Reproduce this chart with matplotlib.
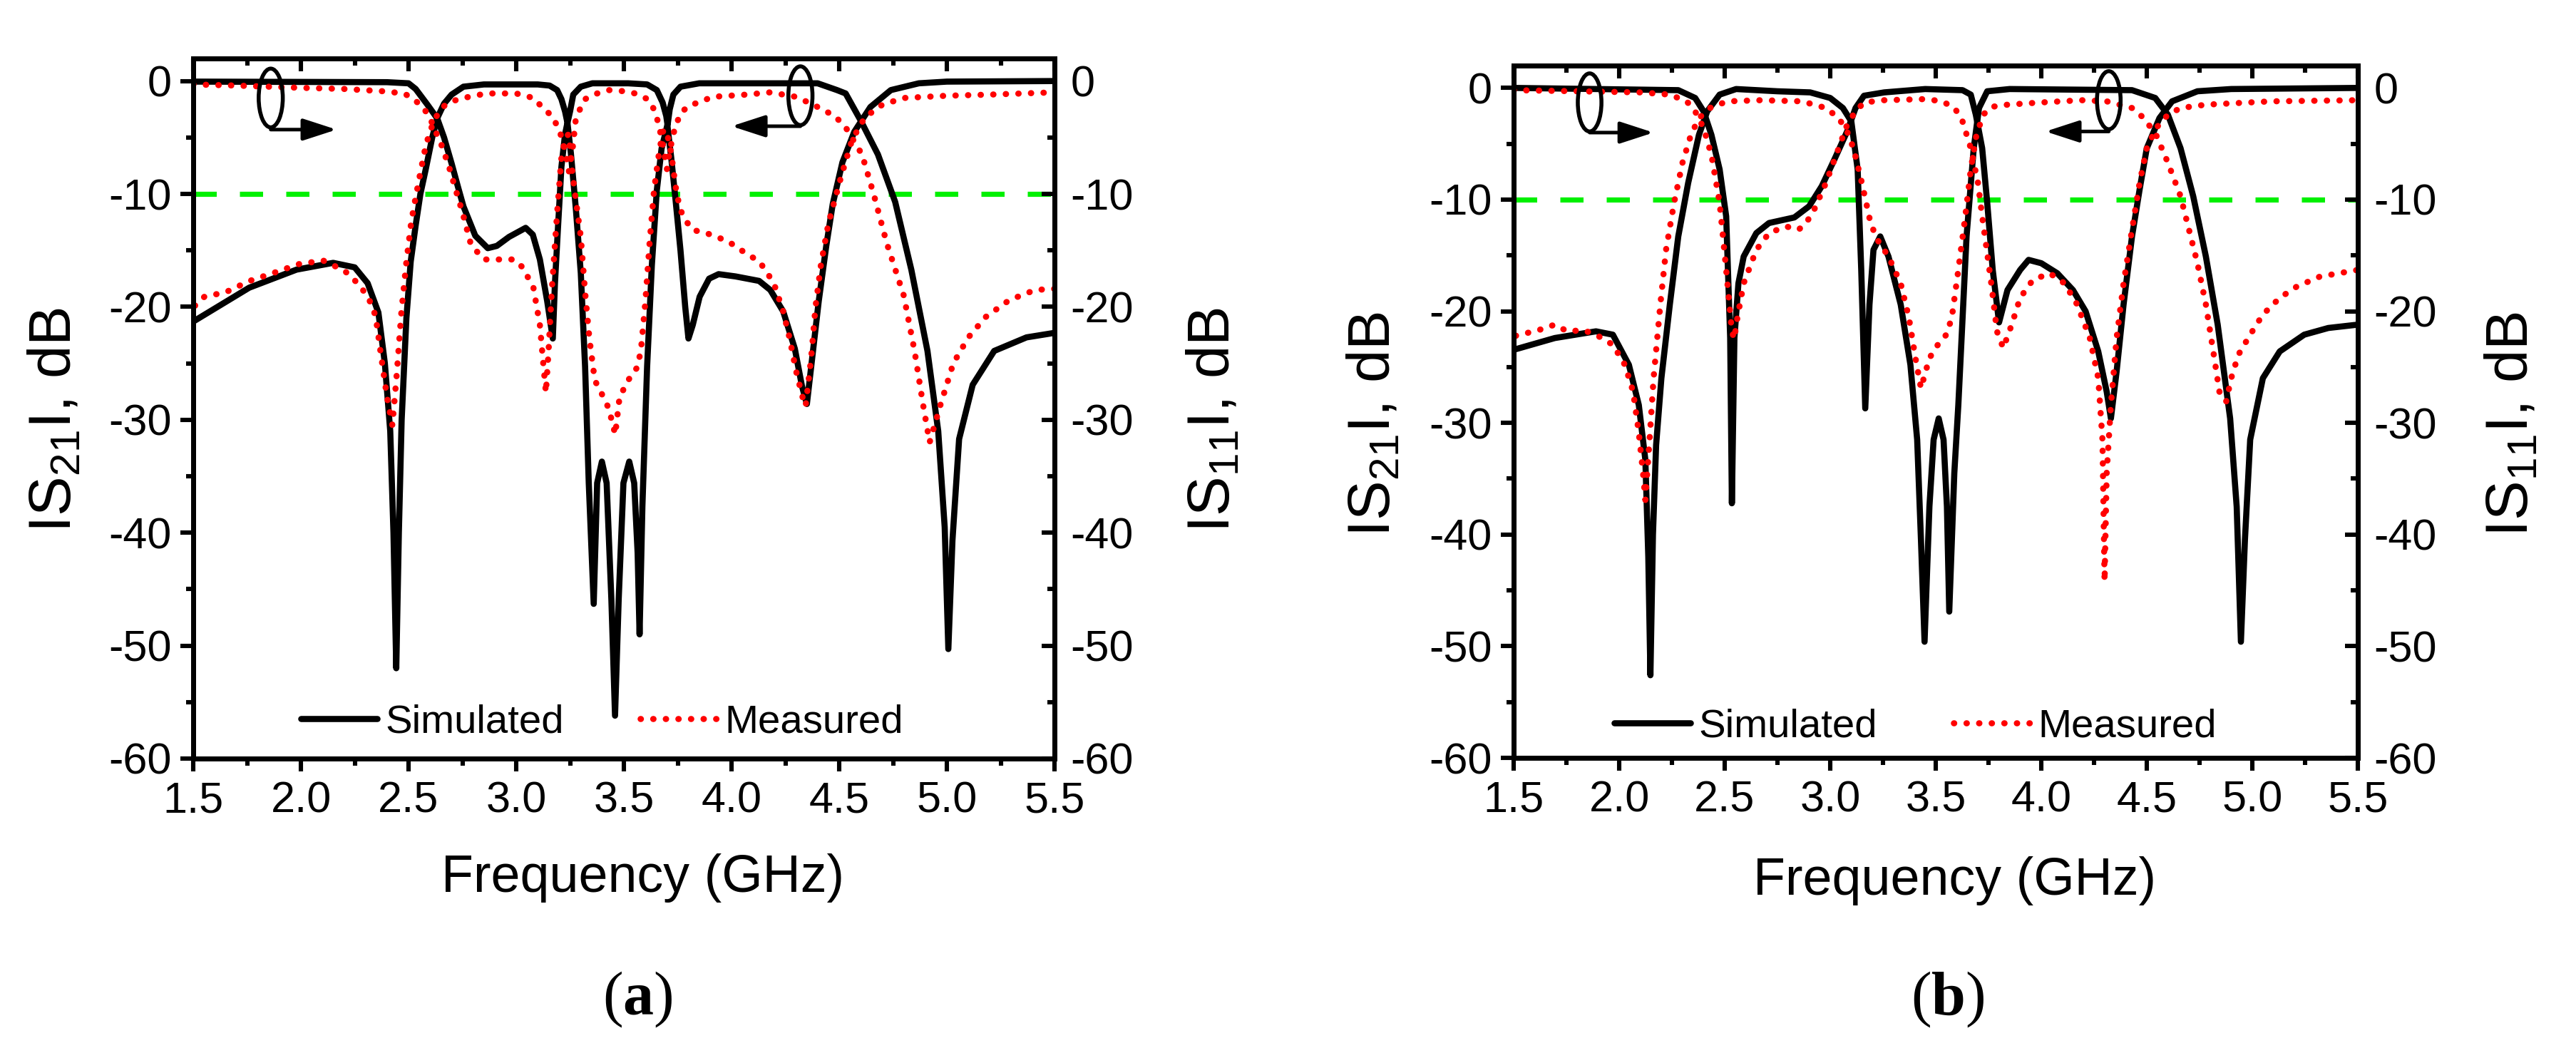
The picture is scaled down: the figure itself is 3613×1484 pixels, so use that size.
import matplotlib
matplotlib.use("Agg")
import matplotlib.pyplot as plt
from matplotlib.ticker import MultipleLocator, NullFormatter
from matplotlib.patches import Ellipse

plt.rcParams['font.family'] = ['Liberation Sans', 'DejaVu Sans']
plt.rcParams['mathtext.fontset'] = 'custom'
plt.rcParams['mathtext.rm'] = 'Liberation Sans'
plt.rcParams['mathtext.it'] = 'Liberation Sans:italic'
plt.rcParams['mathtext.bf'] = 'Liberation Serif:bold'
plt.rcParams['axes.unicode_minus'] = False

# ---------------- panel (a) ----------------
a_s21_sim_f = [1.50, 1.76, 1.98, 2.15, 2.25, 2.31, 2.36, 2.39, 2.415, 2.43, 2.443, 2.455, 2.468,
               2.49, 2.51, 2.533, 2.555, 2.58, 2.61, 2.633, 2.665, 2.70, 2.755, 2.85, 3.10, 3.155,
               3.19, 3.21, 3.227, 3.238, 3.25, 3.265, 3.30, 3.354, 3.52, 3.608, 3.653, 3.68, 3.697,
               3.703, 3.713, 3.73, 3.763, 3.85, 4.40, 4.49, 4.53, 4.60, 4.68, 4.76, 4.835, 4.91,
               4.96, 4.99, 5.007, 5.026, 5.057, 5.12, 5.22, 5.37, 5.50]
a_s21_sim_db = [-21.3, -18.3, -16.7, -16.1, -16.5, -17.9, -20.5, -25.0, -31.0, -40.0, -52.0, -40.0, -30.0,
                -21.0, -16.0, -12.8, -10.0, -7.8, -5.0, -3.3, -2.0, -1.2, -0.5, -0.3, -0.3, -0.4,
                -0.8, -1.6, -2.7, -3.7, -2.7, -1.2, -0.5, -0.2, -0.2, -0.3, -0.8, -1.9, -3.1,
                -3.9, -2.5, -1.2, -0.5, -0.2, -0.2, -0.8, -1.1, -3.5, -6.5, -10.7, -16.7, -23.9,
                -31.0, -39.5, -50.3, -40.7, -31.7, -26.9, -23.9, -22.7, -22.3]

a_s11_sim_f = [1.50, 2.40, 2.50, 2.533, 2.588, 2.633, 2.665, 2.70, 2.73, 2.755, 2.81, 2.868, 2.91,
               2.967, 3.044, 3.077, 3.11, 3.144, 3.17, 3.18, 3.194, 3.21, 3.227, 3.238, 3.254,
               3.277, 3.30, 3.32, 3.337, 3.36, 3.376, 3.398, 3.42, 3.442, 3.459, 3.476, 3.498,
               3.525, 3.548, 3.564, 3.573, 3.586, 3.608, 3.63, 3.653, 3.675, 3.702, 3.72, 3.74,
               3.763, 3.785, 3.80, 3.82, 3.852, 3.896, 3.94, 4.018, 4.128, 4.18, 4.24, 4.294,
               4.327, 4.35, 4.37, 4.405, 4.44, 4.47, 4.515, 4.57, 4.645, 4.74, 4.87, 5.00, 5.50]
a_s11_sim_db = [-0.05, -0.1, -0.2, -0.7, -2.1, -3.3, -5.0, -7.3, -9.4, -11.1, -13.7, -14.8, -14.6,
                -13.8, -13.0, -13.6, -15.8, -19.5, -22.8, -17.9, -13.0, -7.6, -4.7, -3.7, -6.4,
                -11.3, -17.0, -25.3, -35.6, -46.3, -35.6, -33.7, -35.6, -45.9, -56.2, -45.9, -35.6,
                -33.7, -35.6, -41.8, -49.0, -37.7, -25.3, -16.3, -9.7, -6.0, -3.9, -6.8, -10.5,
                -15.0, -20.0, -22.8, -21.6, -19.1, -17.5, -17.1, -17.3, -17.7, -18.5, -20.4, -23.7,
                -27.0, -28.6, -25.3, -19.5, -14.6, -10.9, -7.2, -4.5, -2.3, -0.8, -0.2, -0.05, 0.0]

a_s21_meas_f = [1.508, 1.552, 1.651, 1.762, 1.872, 1.993, 2.104, 2.203, 2.269, 2.314, 2.347, 2.37,
                2.40, 2.425, 2.445, 2.467, 2.49, 2.513, 2.533, 2.556, 2.578, 2.60, 2.633, 2.666,
                2.70, 2.755, 2.86, 3.00, 3.08, 3.12, 3.166, 3.20, 3.225, 3.245, 3.262, 3.276, 3.30,
                3.32, 3.376, 3.43, 3.50, 3.553, 3.61, 3.64, 3.66, 3.68, 3.70, 3.715, 3.74, 3.77,
                3.81, 3.85, 3.91, 4.07, 4.18, 4.30, 4.38, 4.44, 4.48, 4.53, 4.606, 4.66, 4.72,
                4.80, 4.85, 4.89, 4.92, 4.97, 5.03, 5.10, 5.18, 5.29, 5.41, 5.50]
a_s21_meas_db = [-19.9, -19.1, -18.7, -17.7, -17.0, -16.2, -15.9, -16.8, -18.0, -19.2, -20.8, -24.0,
                 -28.0, -30.5, -26.0, -20.4, -16.0, -12.4, -10.3, -8.0, -5.9, -4.4, -3.0, -2.2,
                 -1.8, -1.5, -1.1, -1.1, -1.5, -2.3, -3.1, -4.3, -6.0, -8.0, -6.0, -3.5, -2.3,
                 -1.6, -1.1, -0.8, -0.9, -1.1, -1.6, -2.5, -3.7, -5.5, -7.8, -6.0, -3.9, -2.7,
                 -2.1, -1.9, -1.4, -1.2, -1.0, -1.4, -2.1, -2.7, -3.1, -4.1, -6.5, -10.0, -14.3,
                 -19.0, -23.9, -28.7, -32.0, -28.7, -25.0, -22.7, -20.9, -19.4, -18.5, -18.4]

a_s11_meas_f = [1.50, 1.70, 2.00, 2.20, 2.38, 2.48, 2.523, 2.567, 2.60, 2.633, 2.65, 2.688, 2.72,
                2.75, 2.79, 2.85, 2.99, 3.03, 3.08, 3.11, 3.127, 3.138, 3.15, 3.166, 3.19, 3.21,
                3.227, 3.243, 3.265, 3.30, 3.32, 3.34, 3.365, 3.40, 3.43, 3.46, 3.48, 3.52, 3.564,
                3.58, 3.60, 3.62, 3.64, 3.66, 3.68, 3.697, 3.72, 3.74, 3.76, 3.785, 3.82, 3.874,
                3.93, 3.985, 4.03, 4.08, 4.13, 4.17, 4.20, 4.24, 4.27, 4.30, 4.33, 4.344, 4.37,
                4.39, 4.415, 4.45, 4.48, 4.51, 4.56, 4.62, 4.70, 4.80, 5.00, 5.20, 5.50]
a_s11_meas_db = [-0.3, -0.4, -0.6, -0.7, -0.9, -1.1, -1.6, -2.3, -3.3, -4.8, -5.5, -7.6, -9.7,
                 -11.6, -14.5, -15.8, -15.8, -16.5, -18.3, -21.6, -25.3, -27.6, -24.0, -18.3, -11.7, -6.8,
                 -5.1, -4.7, -8.8, -13.8, -18.7, -22.8, -26.5, -27.8, -29.0, -31.3, -28.0, -26.5, -25.3,
                 -23.7, -19.5, -14.2, -9.7, -6.8, -4.5, -4.3, -6.4, -9.3, -11.3, -12.3, -13.2, -13.4,
                 -13.8, -14.2, -14.8, -15.4, -16.0, -17.1, -18.1, -20.4, -22.8, -25.7, -28.0, -28.8, -24.5,
                 -20.0, -16.3, -12.6, -10.5, -8.4, -5.2, -3.2, -2.1, -1.5, -1.3, -1.2, -1.0]

# ---------------- panel (b) ----------------
b_s21_sim_f = [1.51, 1.695, 1.89, 1.97, 2.046, 2.093, 2.124, 2.138, 2.148, 2.16, 2.175, 2.20, 2.24,
               2.28, 2.327, 2.378, 2.417, 2.476, 2.554, 2.75, 2.905, 3.00, 3.06, 3.10, 3.13, 3.147,
               3.166, 3.186, 3.205, 3.237, 3.276, 3.334, 3.38, 3.412, 3.43, 3.447, 3.47, 3.49, 3.514,
               3.537, 3.553, 3.564, 3.588, 3.607, 3.646, 3.68, 3.705, 3.744, 3.85, 4.43, 4.54, 4.60,
               4.66, 4.72, 4.78, 4.836, 4.895, 4.926, 4.946, 4.965, 4.99, 5.05, 5.13, 5.246, 5.36, 5.50]
b_s21_sim_db = [-23.4, -22.4, -21.8, -22.1, -24.8, -28.4, -33.3, -42.0, -52.6, -40.0, -32.0, -26.0, -19.4,
                -13.3, -8.5, -4.2, -2.1, -0.6, -0.1, -0.3, -0.4, -0.9, -1.8, -3.0, -7.3, -16.3,
                -28.7, -19.4, -14.5, -13.3, -15.1, -19.4, -24.8, -31.5, -40.5, -49.6, -37.5, -31.5, -29.6,
                -31.5, -37.5, -46.9, -34.5, -28.4, -13.3, -5.4, -1.8, -0.3, -0.1, -0.2, -0.9, -2.4,
                -5.4, -9.7, -15.1, -21.2, -29.6, -37.5, -49.6, -40.5, -31.5, -26.0, -23.6, -22.1, -21.5, -21.2]

b_s11_sim_f = [1.50, 2.28, 2.36, 2.40, 2.437, 2.476, 2.507, 2.526, 2.534, 2.546, 2.565, 2.59, 2.65,
               2.71, 2.83, 2.90, 2.96, 3.02, 3.08, 3.12, 3.16, 3.256, 3.45, 3.627, 3.666, 3.69, 3.72,
               3.744, 3.77, 3.80, 3.84, 3.90, 3.94, 4.00, 4.076, 4.15, 4.21, 4.27, 4.31, 4.33, 4.357,
               4.39, 4.43, 4.466, 4.50, 4.56, 4.62, 4.74, 4.90, 5.50]
b_s11_sim_db = [0.0, -0.2, -0.9, -2.1, -4.2, -7.3, -11.5, -22.4, -37.2, -22.4, -17.5, -15.1, -13.0,
                -12.1, -11.6, -10.6, -8.8, -6.4, -3.9, -1.8, -0.7, -0.4, -0.1, -0.2, -0.6, -2.4, -5.4,
                -10.3, -16.3, -21.0, -18.1, -16.3, -15.4, -15.7, -16.6, -18.1, -20.0, -23.6, -27.2, -29.6, -25.4,
                -19.4, -13.3, -9.1, -5.4, -2.7, -1.2, -0.3, -0.1, 0.0]

b_s21_meas_f = [1.51, 1.617, 1.695, 1.754, 1.83, 1.89, 1.97, 2.027, 2.066, 2.093, 2.113, 2.124, 2.144,
                2.163, 2.195, 2.222, 2.26, 2.30, 2.34, 2.378, 2.437, 2.515, 2.67, 2.866, 2.98, 3.04,
                3.08, 3.11, 3.15, 3.19, 3.22, 3.276, 3.334, 3.373, 3.404, 3.43, 3.47, 3.51, 3.55,
                3.576, 3.607, 3.64, 3.666, 3.693, 3.725, 3.763, 3.84, 4.00, 4.19, 4.31, 4.43, 4.486,
                4.544, 4.60, 4.66, 4.70, 4.74, 4.78, 4.82, 4.844, 4.876, 4.90, 4.934, 4.99, 5.05,
                5.13, 5.21, 5.32, 5.50]
b_s21_meas_db = [-22.2, -21.7, -21.2, -21.8, -21.7, -22.1, -23.0, -24.8, -27.2, -30.9, -34.5, -36.9, -31.5,
                 -26.0, -19.4, -14.5, -10.3, -6.7, -4.2, -2.7, -1.7, -1.2, -1.1, -1.2, -1.8, -2.7,
                 -3.9, -5.4, -8.5, -12.0, -13.5, -15.1, -17.5, -20.6, -24.2, -26.9, -24.2, -23.0, -22.1,
                 -20.6, -16.3, -11.5, -7.3, -4.2, -2.4, -1.7, -1.5, -1.3, -1.1, -1.2, -1.8, -2.7,
                 -4.2, -6.7, -9.7, -12.7, -15.7, -19.4, -24.2, -27.2, -28.1, -26.0, -23.9, -22.1, -20.3,
                 -18.8, -17.8, -16.9, -16.3]

b_s11_meas_f = [1.50, 1.80, 2.10, 2.24, 2.32, 2.36, 2.40, 2.437, 2.476, 2.507, 2.534, 2.545, 2.56,
                2.59, 2.65, 2.71, 2.79, 2.85, 2.886, 2.924, 2.98, 3.04, 3.08, 3.12, 3.16, 3.256,
                3.45, 3.53, 3.59, 3.627, 3.666, 3.70, 3.72, 3.763, 3.79, 3.82, 3.86, 3.90, 3.96,
                4.04, 4.11, 4.17, 4.23, 4.27, 4.29, 4.30, 4.31, 4.33, 4.357, 4.39, 4.43, 4.466,
                4.50, 4.544, 4.60, 4.66, 4.78, 5.09, 5.50]
b_s11_meas_db = [-0.2, -0.3, -0.4, -0.6, -1.2, -2.1, -3.6, -6.0, -10.3, -16.3, -21.8, -22.5, -20.6,
                 -17.5, -14.5, -13.0, -12.4, -12.7, -12.1, -10.9, -8.5, -5.4, -3.3, -2.1, -1.3, -1.1,
                 -1.0, -1.2, -1.8, -3.0, -5.4, -8.5, -11.5, -17.5, -21.8, -23.3, -21.2, -18.8, -17.2,
                 -16.6, -17.5, -19.4, -22.4, -26.0, -31.5, -44.2, -34.5, -28.4, -22.4, -17.5, -12.7, -8.5,
                 -5.4, -3.6, -2.4, -1.8, -1.5, -1.2, -1.1]

# ellipse markers: (centre f, centre dB, arrow tip f, arrow level dB)
a_markers = [(1.86, -1.5, 2.166, -4.3), (4.32, -1.3, 4.00, -4.0)]
b_markers = [(1.86, -1.3, 2.163, -4.0), (4.32, -1.1, 4.02, -3.9)]

W, H = 3613, 1484
fig = plt.figure(figsize=(W / 200, H / 200), dpi=200)

SIM = dict(color='black', lw=3.1, solid_joinstyle='round', solid_capstyle='round')
MEAS = dict(color='#FF0000', lw=3.1, linestyle=(0, (0.05, 2.0)), dash_capstyle='round')


def style_axis(ax):
    for sp in ax.spines.values():
        sp.set_linewidth(2.5)
    ax.xaxis.set_major_locator(MultipleLocator(0.5))
    ax.xaxis.set_minor_locator(MultipleLocator(0.25))
    ax.yaxis.set_major_locator(MultipleLocator(10))
    ax.yaxis.set_minor_locator(MultipleLocator(5))


def draw_panel(rect, s21s, s11s, s21m, s11m, markers, leg_pos):
    ax = fig.add_axes(rect)
    ax.axhline(-10, color='#00F000', lw=2.6, linestyle=(0, (4.5, 4.5)), zorder=1)
    l_sim, = ax.plot(s21s[0], s21s[1], label='Simulated', zorder=3, **SIM)
    ax.plot(s11s[0], s11s[1], zorder=3, **SIM)
    l_meas, = ax.plot(s21m[0], s21m[1], label='Measured', zorder=4, **MEAS)
    ax.plot(s11m[0], s11m[1], zorder=4, **MEAS)

    ax.set_xlim(1.5, 5.5)
    ax.set_ylim(-60, 2)
    style_axis(ax)
    ax.tick_params(which='both', direction='out', width=2.2, top=False, right=False, labelsize=22)
    ax.tick_params(which='major', length=6.5)
    ax.tick_params(which='minor', length=3.5)
    ax.tick_params(axis='x', which='major', pad=5)
    ax.tick_params(axis='y', which='major', pad=4.5)

    axr = ax.twinx()
    axr.set_ylim(-60, 2)
    style_axis(axr)
    axr.tick_params(which='both', direction='in', width=2.2, labelsize=22)
    axr.tick_params(which='major', length=6.5, pad=8)
    axr.tick_params(which='minor', length=3.5)

    axt = ax.secondary_xaxis('top')
    axt.xaxis.set_major_locator(MultipleLocator(0.5))
    axt.xaxis.set_minor_locator(MultipleLocator(0.25))
    axt.xaxis.set_major_formatter(NullFormatter())
    axt.tick_params(which='both', direction='in', width=2.2)
    axt.tick_params(which='major', length=6.5)
    axt.tick_params(which='minor', length=3.5)
    axt.spines['top'].set_linewidth(2.5)

    for fc, dc, ft, dl in markers:
        ax.add_patch(Ellipse((fc, dc), width=0.112, height=5.2, fill=False,
                             edgecolor='black', lw=2.0, zorder=5))
        ax.annotate('', xy=(ft, dl), xytext=(fc, dl),
                    arrowprops=dict(arrowstyle='-|>,head_length=0.4,head_width=0.13',
                                    mutation_scale=36, lw=1.8, color='black',
                                    shrinkA=0, shrinkB=0), zorder=5)

    ax.legend(handles=[l_sim, l_meas], loc='center', bbox_to_anchor=leg_pos, ncol=2,
              frameon=False, fontsize=20.3, handlelength=1.9, handletextpad=0.2,
              columnspacing=1.9, borderpad=0)
    return ax


draw_panel([271 / W, (H - 1064) / H, 1208 / W, 982 / H],
           (a_s21_sim_f, a_s21_sim_db), (a_s11_sim_f, a_s11_sim_db),
           (a_s21_meas_f, a_s21_meas_db), (a_s11_meas_f, a_s11_meas_db),
           a_markers, (0.475, 0.051))
draw_panel([2123 / W, (H - 1063) / H, 1184 / W, 971 / H],
           (b_s21_sim_f, b_s21_sim_db), (b_s11_sim_f, b_s11_sim_db),
           (b_s21_meas_f, b_s21_meas_db), (b_s11_meas_f, b_s11_meas_db),
           b_markers, (0.476, 0.045))

# axis titles and captions, placed in figure pixels
ylab_kw = dict(rotation=90, rotation_mode='anchor', ha='center', va='baseline', fontsize=30)
fig.text(100 / W, 1 - 589 / H, r'IS$_{21}$I, dB', **ylab_kw)
fig.text(1725 / W, 1 - 589 / H, r'IS$_{11}$I, dB', **ylab_kw)
fig.text(1950 / W, 1 - 595 / H, r'IS$_{21}$I, dB', **ylab_kw)
fig.text(3546 / W, 1 - 595 / H, r'IS$_{11}$I, dB', **ylab_kw)

fig.text(902 / W, 1 - 1251 / H, 'Frequency (GHz)', ha='center', va='baseline', fontsize=26.5)
fig.text(2742 / W, 1 - 1255 / H, 'Frequency (GHz)', ha='center', va='baseline', fontsize=26.5)

fig.text(894 / W, 1 - 1402 / H, r'($\mathbf{a}$)', ha='center', va='center', fontsize=31,
         family='Liberation Serif')
fig.text(2732 / W, 1 - 1402 / H, r'($\mathbf{b}$)', ha='center', va='center', fontsize=31,
         family='Liberation Serif')

fig.savefig('out.png', dpi=200)
